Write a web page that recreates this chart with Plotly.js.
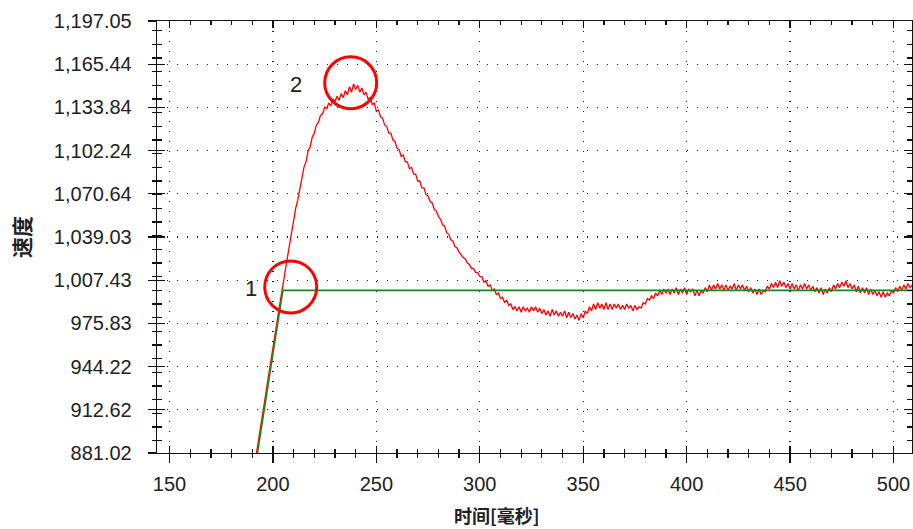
<!DOCTYPE html>
<html>
<head>
<meta charset="utf-8">
<script src="https://cdn.plot.ly/plotly-3.0.1.min.js"></script>
<style>
html,body{margin:0;padding:0;background:#fff;}
#chart{width:913px;height:529px;}
</style>
</head>
<body>
<div id="chart"></div>
<script>
// ---- data ----
const timeMs = [
191,192,193,194,195,196,197,198,199,200,
201,202,203,204,205,206,207,208,209,210,
211,212,213,214,215,216,217,218,219,220,
221,222,223,224,225,226,227,228,229,230,
231,232,233,234,235,236,237,238,239,240,
241,242,243,244,245,246,247,248,249,250,
251,252,253,254,255,256,257,258,259,260,
261,262,263,264,265,266,267,268,269,270,
271,272,273,274,275,276,277,278,279,280,
281,282,283,284,285,286,287,288,289,290,
291,292,293,294,295,296,297,298,299,300,
301,302,303,304,305,306,307,308,309,310,
311,312,313,314,315,316,317,318,319,320,
321,322,323,324,325,326,327,328,329,330,
331,332,333,334,335,336,337,338,339,340,
341,342,343,344,345,346,347,348,349,350,
351,352,353,354,355,356,357,358,359,360,
361,362,363,364,365,366,367,368,369,370,
371,372,373,374,375,376,377,378,379,380,
381,382,383,384,385,386,387,388,389,390,
391,392,393,394,395,396,397,398,399,400,
401,402,403,404,405,406,407,408,409,410,
411,412,413,414,415,416,417,418,419,420,
421,422,423,424,425,426,427,428,429,430,
431,432,433,434,435,436,437,438,439,440,
441,442,443,444,445,446,447,448,449,450,
451,452,453,454,455,456,457,458,459,460,
461,462,463,464,465,466,467,468,469,470,
471,472,473,474,475,476,477,478,479,480,
481,482,483,484,485,486,487,488,489,490,
491,492,493,494,495,496,497,498,499,500,
501,502,503,504,505,506,507,508,509
];
const actualSpeed = [
871,880,890,899,909,919,929,938,948,958,
968,977,987,997,1006,1015,1024,1033,1043,1050,
1060,1066,1075,1081,1090,1094,1102,1105,1112,1115,
1121,1123,1128,1129,1134,1133,1137,1135,1140,1138,
1142,1139,1144,1141,1146,1143,1149,1145,1151,1147,
1150,1145,1148,1143,1145,1140,1141,1136,1137,1131,
1132,1127,1126,1121,1120,1115,1115,1110,1109,1104,
1103,1098,1099,1094,1094,1089,1090,1085,1085,1080,
1080,1075,1075,1070,1069,1065,1064,1059,1058,1054,
1052,1048,1047,1042,1041,1037,1036,1032,1031,1028,
1026,1024,1023,1020,1019,1016,1016,1013,1013,1010,
1010,1006,1007,1003,1004,1000,1001,997,998,994,
995,991,993,989,990,986,988,985,988,984,
988,985,987,984,988,985,988,984,987,983,
986,982,985,981,986,982,985,981,984,981,
985,980,984,980,983,979,982,978,983,980,
985,983,988,985,990,986,991,987,990,986,
991,986,990,986,990,987,990,986,989,986,
990,987,989,985,989,986,988,987,991,990,
994,993,996,994,998,996,1000,997,1001,998,
1001,997,1001,998,1002,997,1001,998,1002,997,
1001,999,1001,996,1000,996,1000,998,1002,999,
1004,1000,1004,1001,1005,1001,1004,1000,1004,1000,
1003,1001,1005,1000,1004,1001,1004,1000,1003,999,
1002,998,1001,997,1001,997,1000,999,1003,1001,
1005,1002,1006,1002,1007,1003,1006,1002,1005,1001,
1005,1001,1004,1000,1004,1001,1005,1001,1004,1000,
1003,999,1002,998,1002,997,1001,998,1002,999,
1004,1001,1005,1002,1006,1003,1007,1002,1005,1001,
1004,999,1003,998,1002,998,1002,997,1001,997,
1000,996,999,995,999,995,998,996,1000,998,
1002,999,1003,1000,1004,1001,1005,1002,1004
];
const setTime = [191.4, 204.8, 509];
const setSpeed = [870, 1000, 1000];

const xTickVals = [150, 200, 250, 300, 350, 400, 450, 500];
const xTickText = ['150', '200', '250', '300', '350', '400', '450', '500'];
const yTickVals = [881.02, 912.62, 944.22, 975.83, 1007.43, 1039.03, 1070.64, 1102.24, 1133.84, 1165.44, 1197.05];
const yTickText = ['881.02', '912.62', '944.22', '975.83', '1,007.43', '1,039.03', '1,070.64', '1,102.24', '1,133.84', '1,165.44', '1,197.05'];

const markTime = [208.6, 237.6];
const markSpeed = [1002.5, 1151.9];
const markText = ['1', '2'];

const xTitle = '时间[毫秒]';
const yTitle = '速度';

// ---- chart ----
const xRange = [143.96, 508.94];
const yRange = [881.02, 1197.05];
const axisColor = '#111';
const gridColor = '#222';
const labelFont = {family: 'Liberation Sans, Arial, sans-serif', size: 20, color: '#222'};
const xTitleFont = {family: 'Noto Sans CJK SC, sans-serif', size: 18, color: '#222', weight: 'bold'};
const yTitleFont = {family: 'Noto Sans CJK SC, sans-serif', size: 21, color: '#222', weight: 'bold'};

const traces = [
  {x: timeMs, y: actualSpeed, type: 'scatter', mode: 'lines',
   line: {color: '#ff0000', width: 1.3}, xaxis: 'x', yaxis: 'y', hoverinfo: 'skip'},
  {x: setTime, y: setSpeed, type: 'scatter', mode: 'lines',
   line: {color: '#138a13', width: 1.6}, xaxis: 'x2', yaxis: 'y2', hoverinfo: 'skip'}
];

const shapes = markTime.map((t, i) => ({
  type: 'circle', xref: 'x', yref: 'y',
  xsizemode: 'pixel', ysizemode: 'pixel',
  xanchor: t, yanchor: markSpeed[i],
  x0: -26, x1: 26, y0: -26, y1: 26,
  line: {color: '#ff0000', width: 3}, layer: 'above'
}));

const annotations = markTime.map((t, i) => ({
  x: t, y: markSpeed[i], xref: 'x', yref: 'y',
  text: markText[i], showarrow: false,
  xshift: i === 0 ? -40 : -55, yshift: -2,
  font: {family: 'Liberation Sans, Arial, sans-serif', size: 22, color: '#222'}
}));
annotations.push({
  text: xTitle, xref: 'paper', yref: 'paper',
  x: (497 - 157) / 755, y: 0, yshift: -62,
  xanchor: 'center', yanchor: 'middle', showarrow: false,
  font: xTitleFont
});

const layout = {
  width: 913, height: 529,
  margin: {l: 157, r: 1, t: 21, b: 76, pad: 0},
  paper_bgcolor: '#ffffff', plot_bgcolor: '#ffffff',
  showlegend: false,
  font: labelFont,
  xaxis: {
    range: xRange, tickmode: 'array', tickvals: xTickVals, ticktext: xTickText,
    ticks: 'outside', ticklen: 9, tickwidth: 1.3, tickcolor: axisColor,
    showline: true, linecolor: axisColor, linewidth: 1.3, mirror: false,
    showgrid: true, gridcolor: gridColor, gridwidth: 1.3, griddash: '1.3px,8.7px',
    zeroline: false, tickfont: labelFont, ticklabelstandoff: 4,
    minor: {tickmode: 'linear', tick0: 0, dtick: 10, ticks: 'outside', ticklen: 4, tickcolor: axisColor, tickwidth: 1.3, showgrid: false}
  },
  xaxis2: {
    overlaying: 'x', anchor: 'y2', side: 'bottom', range: xRange,
    tickmode: 'array', tickvals: xTickVals, ticks: 'inside', ticklen: 7,
    tickwidth: 1.3, tickcolor: axisColor, showticklabels: false,
    showline: true, linecolor: axisColor, linewidth: 1.3, mirror: 'allticks',
    showgrid: false, zeroline: false,
    minor: {tickmode: 'linear', tick0: 0, dtick: 10, ticks: 'inside', ticklen: 4, tickcolor: axisColor, tickwidth: 1.3, showgrid: false}
  },
  yaxis: {
    range: yRange, tickmode: 'array', tickvals: yTickVals, ticktext: yTickText,
    ticks: 'outside', ticklen: 8, tickwidth: 1.3, tickcolor: axisColor,
    showline: true, linecolor: axisColor, linewidth: 1.3, mirror: false,
    showgrid: true, gridcolor: gridColor, gridwidth: 1.3, griddash: '1.3px,8.7px',
    zeroline: false, tickfont: labelFont, ticklabelstandoff: 12,
    title: {text: yTitle, font: yTitleFont, standoff: 17},
    minor: {tickmode: 'linear', tick0: 0, dtick: 10, ticks: 'outside', ticklen: 4, tickcolor: axisColor, tickwidth: 1.3, showgrid: false}
  },
  yaxis2: {
    overlaying: 'y', anchor: 'x2', side: 'left', range: yRange,
    tickmode: 'array', tickvals: yTickVals, ticks: 'inside', ticklen: 8,
    tickwidth: 1.3, tickcolor: axisColor, showticklabels: false,
    showline: true, linecolor: axisColor, linewidth: 1.3, mirror: 'allticks',
    showgrid: false, zeroline: false,
    minor: {tickmode: 'linear', tick0: 0, dtick: 10, ticks: 'inside', ticklen: 5, tickcolor: axisColor, tickwidth: 1.3, showgrid: false}
  },
  shapes: shapes,
  annotations: annotations
};

Plotly.newPlot('chart', traces, layout, {staticPlot: true, displayModeBar: false});
</script>
</body>
</html>
